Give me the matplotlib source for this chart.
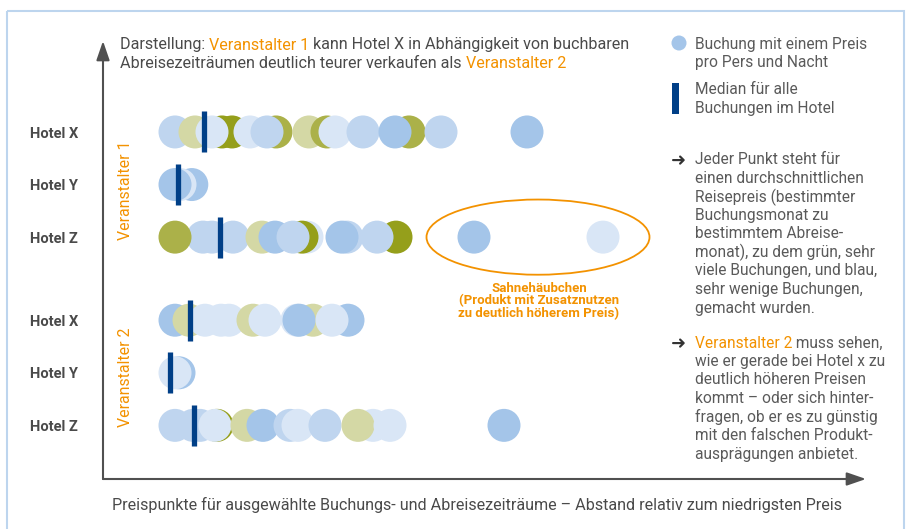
import matplotlib
matplotlib.use("Agg")
import matplotlib.pyplot as plt
from matplotlib.patches import Ellipse, Rectangle, Circle

plt.rcParams['font.family'] = ['Roboto', 'DejaVu Sans']

# ---------------- data ----------------
# price offset relative to the lowest price (arbitrary units), drawing order kept
# level: 0 = very many bookings (dark green) ... 5 = very few bookings (blue)
v1x_vals = [0, 5, 11.75, 14.25, 9.25, 18.75, 25.25, 23, 33.5, 38, 40, 47, 58.5, 55, 66.5, 88]
v1x_lvls = [4, 2, 0, 0, 3, 3, 1, 4, 2, 1, 3, 4, 1, 5, 4, 5]
v1y_vals = [4.2, 1.25, 0]
v1y_lvls = [5, 3, 5]
v1z_vals = [7, 9.25, 0, 14.5, 21.75, 25, 33, 31.75, 29.5, 43, 41.75, 55.25, 50.5, 74.75, 107]
v1z_lvls = [4, 4, 1, 4, 2, 5, 3, 0, 4, 4, 5, 0, 4, 5, 3]
v2x_vals = [0, 3.5, 7.5, 11.5, 13.5, 19.5, 22.5, 30.5, 34.5, 31, 43.25, 39.25]
v2x_lvls = [5, 2, 3, 3, 3, 2, 3, 3, 2, 5, 5, 3]
v2y_vals = [1, 0]
v2y_lvls = [5, 3]
v2z_vals = [0, 4.5, 6.25, 10.5, 10, 18, 22, 28.75, 30.75, 37.5, 49.5, 45.75, 53.75, 82.25]
v2z_lvls = [4, 4, 4, 0, 3, 2, 5, 4, 3, 4, 3, 2, 3, 5]

medians = [7.25, 0.75, 11.25, 3.75, -1.25, 4.75]

hotels = ["Hotel X", "Hotel Y", "Hotel Z", "Hotel X", "Hotel Y", "Hotel Z"]
row_pos = [0, 1, 2, 3.58, 4.58, 5.58]
operators = ["Veranstalter 1", "Veranstalter 2"]

level_colors = ["#959F1B", "#ABB149", "#D4D8A5", "#D9E6F6", "#BFD5EF", "#A4C5E9"]

rows_vals = [v1x_vals, v1y_vals, v1z_vals, v2x_vals, v2y_vals, v2z_vals]
rows_lvls = [v1x_lvls, v1y_lvls, v1z_lvls, v2x_lvls, v2y_lvls, v2z_lvls]

GRAY = "#4A4A4A"
ORANGE = "#F39200"
NAVY = "#003F87"

W, H = 907, 529
fig = plt.figure(figsize=(W / 100, H / 100), dpi=100)

def fx(px):
    return px / W

def fy(py):
    return 1 - py / H

# overlay axes in pixel coordinates for decorations
ov = fig.add_axes([0, 0, 1, 1], zorder=0)
ov.set_xlim(0, W)
ov.set_ylim(H, 0)
ov.axis("off")
ov.set_facecolor("none")
ov.add_patch(Rectangle((7, 11), 897, 560, fill=False, edgecolor="#BDD5EE", lw=1.5, clip_on=False))

# main axes
x0, x1, y0, y1 = 103, 866, 41, 479
ax = fig.add_axes([fx(x0), fy(y1), (x1 - x0) / W, (y1 - y0) / H], zorder=1)
ax.set_facecolor("none")
ax.set_xlim(-18, 172.75)
ax.set_ylim(6.6, -1.73)
for s in ax.spines.values():
    s.set_visible(False)
ax.set_xticks([])
ax.set_yticks([])

arrow_kw = dict(arrowstyle="-|>,head_length=0.58,head_width=0.2", color="#505050", lw=1.5,
                mutation_scale=20, shrinkA=0, shrinkB=0)
ax.annotate("", xy=(0, 1), xytext=(0, 0), xycoords="axes fraction", arrowprops=arrow_kw)
ax.annotate("", xy=(1, 0), xytext=(0, 0), xycoords="axes fraction", arrowprops=arrow_kw)

dot_d_pt = 33 * 72 / 100
for yv, vals, lvls in zip(row_pos, rows_vals, rows_lvls):
    ax.scatter(vals, [yv] * len(vals), s=dot_d_pt ** 2, c=[level_colors[l] for l in lvls],
               linewidths=0, zorder=2)
for yv, m in zip(row_pos, medians):
    ax.vlines(m, yv - 0.39, yv + 0.39, color=NAVY, lw=3.8, zorder=3)

# highlight ellipse around premium offers (Hotel Z, Veranstalter 1)
ax.add_patch(Ellipse((90.75, 2), 55.75, 1.43, fill=False, edgecolor=ORANGE, lw=1.3, zorder=1))
ax.text(91, 2.85, "Sahnehäubchen\n(Produkt mit Zusatznutzen\nzu deutlich höherem Preis)",
        ha="center", va="top", color=ORANGE, fontsize=9.5, fontweight="bold", linespacing=0.95)

# hotel labels (left of the axis)
for yv, h in zip(row_pos, hotels):
    ax.text(-36.25, yv + 0.03, h, ha="left", va="center", fontsize=10.5, fontweight="bold",
            color=GRAY, clip_on=False)
# operator labels
ax.text(-12.25, 1.1, operators[0], rotation=90, ha="center", va="center", fontsize=11.4,
        color=ORANGE)
ax.text(-12.25, 4.66, operators[1], rotation=90, ha="center", va="center", fontsize=11.4,
        color=ORANGE)

# ---------- title (multi-coloured) ----------
def chain(parts, x, y, size):
    prev = None
    for txt, col in parts:
        if prev is None:
            prev = fig.text(fx(x), fy(y), txt, ha="left", va="center", color=col, fontsize=size)
        else:
            prev = ov.annotate(txt, xy=(1, 0), xycoords=prev, ha="left", va="bottom",
                               color=col, fontsize=size)
    return prev

TS = 11.6
chain([("Darstellung: ", GRAY), ("Veranstalter 1", ORANGE),
       (" kann Hotel X in Abhängigkeit von buchbaren", GRAY)], 120, 45, TS)
chain([("Abreisezeiträumen deutlich teurer verkaufen als ", GRAY), ("Veranstalter 2", ORANGE)],
      120, 64, TS)

# caption
fig.text(fx(112), fy(505), "Preispunkte für ausgewählte Buchungs- und Abreisezeiträume – Abstand relativ zum niedrigsten Preis",
         ha="left", va="center", color=GRAY, fontsize=TS)

# ---------- right-hand legend / notes ----------
RS = 11.2
RC = "#5A5A5A"
ov.add_patch(Circle((679, 43), 7.5, color="#A4C5E9", lw=0))
ov.add_patch(Rectangle((672, 83), 7, 31, color=NAVY, lw=0))
fig.text(fx(695), fy(45), "Buchung mit einem Preis", ha="left", va="center", color=RC, fontsize=RS)
fig.text(fx(695), fy(63), "pro Pers und Nacht", ha="left", va="center", color=RC, fontsize=RS)
fig.text(fx(695), fy(90), "Median für alle", ha="left", va="center", color=RC, fontsize=RS)
fig.text(fx(695), fy(108), "Buchungen im Hotel", ha="left", va="center", color=RC, fontsize=RS)

LS = 18.5
block1 = ["Jeder Punkt steht für", "einen durchschnittlichen", "Reisepreis (bestimmter",
          "Buchungsmonat zu", "bestimmtem Abreise-", "monat), zu dem grün, sehr",
          "viele Buchungen, und blau,", "sehr wenige Buchungen,", "gemacht wurden."]
fig.text(fx(671), fy(161), "➜", ha="left", va="center", color="#333333", fontsize=13,
         family=["DejaVu Sans"])
for i, line in enumerate(block1):
    fig.text(fx(695), fy(160 + i * LS), line, ha="left", va="center", color=RC, fontsize=RS)

block2 = ["wie er gerade bei Hotel x zu", "deutlich höheren Preisen", "kommt – oder sich hinter-",
          "fragen, ob er es zu günstig", "mit den falschen Produkt-", "ausprägungen anbietet."]
fig.text(fx(671), fy(344), "➜", ha="left", va="center", color="#333333", fontsize=13,
         family=["DejaVu Sans"])
chain([("Veranstalter 2", ORANGE), (" muss sehen,", RC)], 695, 343, RS)
for i, line in enumerate(block2):
    fig.text(fx(695), fy(343 + (i + 1) * LS), line, ha="left", va="center", color=RC, fontsize=RS)

fig.savefig("out.png", dpi=100, facecolor="white")
